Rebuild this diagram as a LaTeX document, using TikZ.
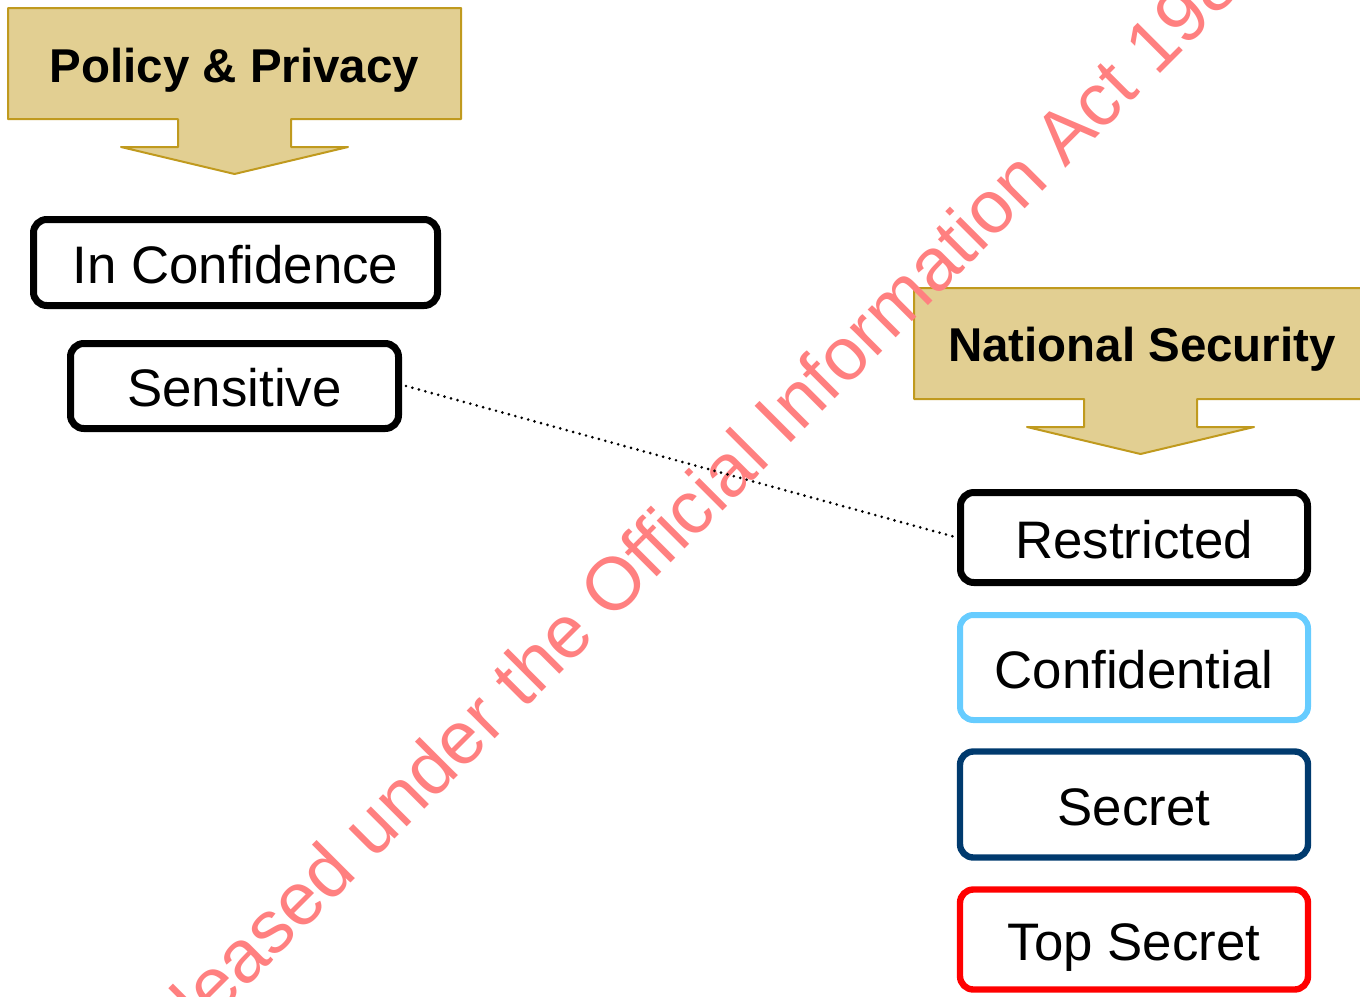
\documentclass[tikz,border=0pt]{standalone}
\usepackage{fontspec}
\setmainfont{Liberation Sans}
\definecolor{bannerfill}{HTML}{E2CF92}
\definecolor{bannerline}{HTML}{C09A1E}
\definecolor{wm}{HTML}{FF8080}
\definecolor{conf}{HTML}{66CCFF}
\definecolor{secr}{HTML}{003A6E}
\definecolor{tops}{HTML}{FF0000}
\begin{document}
\begin{tikzpicture}[x=0.75pt,y=-0.75pt,
  lvl/.style={draw, rounded corners=10pt, line width=5.25pt, inner sep=0pt,
    font=\fontsize{39.6}{44}\selectfont, text height=31pt, text depth=0pt, fill=white},
  bannershape/.style={fill=bannerfill, draw=bannerline, line width=1.5pt, line join=round},
  bannertext/.style={font=\fontsize{35.6}{40}\selectfont\bfseries, inner sep=0pt,
    text height=25.5pt, text depth=0pt},
  dotline/.style={line width=2.2pt, dash pattern=on 0pt off 5pt, line cap=round}
]
\useasboundingbox (0,0) rectangle (1360,996);
\clip (0,0) rectangle (1360,996);

% banners
\foreach \dx/\dy in {0/0, 906/280}{
  \draw[bannershape, shift={(\dx,\dy)}]
    (8,8) -- (461,8) -- (461,119) -- (291,119) -- (291,147) -- (348,147)
    -- (234.5,174) -- (121,147) -- (178,147) -- (178,119) -- (8,119) -- cycle;
}
\node[bannertext] (pp) at (234.5,65) {Policy \& Privacy};
\node[bannertext] (ns) at (1142,344.5) {National Security};

% levels
\node[lvl, minimum width=303pt, minimum height=64.5pt] (inconf) at (235.5,262.5) {In Confidence};
\node[lvl, minimum width=246pt, minimum height=63.75pt] (sens) at (234.5,386) {Sensitive};
\node[lvl, minimum width=260.25pt, minimum height=67.5pt] (restr) at (1134,537.5) {Restricted};
\node[lvl, draw=conf, line width=4.5pt, minimum width=261pt, minimum height=78.75pt] (confid) at (1134,667.5) {Confidential};
\node[lvl, draw=secr, line width=4.8pt, minimum width=261pt, minimum height=79.5pt] (secret) at (1134,804.5) {Secret};
\node[lvl, draw=tops, line width=4.8pt, minimum width=261pt, minimum height=75pt] (topsec) at (1134,939.5) {Top Secret};

% watermark
\node[rotate=45, anchor=base west, inner sep=0pt, text=wm,
  font=\fontsize{56}{60}\selectfont] (wmark) at (135.9,1098)
  {Released under the Official Information Act 1982};

% dotted link
\draw[dotline] ([xshift=3pt]sens.east) -- (restr.west);
\end{tikzpicture}
\end{document}
